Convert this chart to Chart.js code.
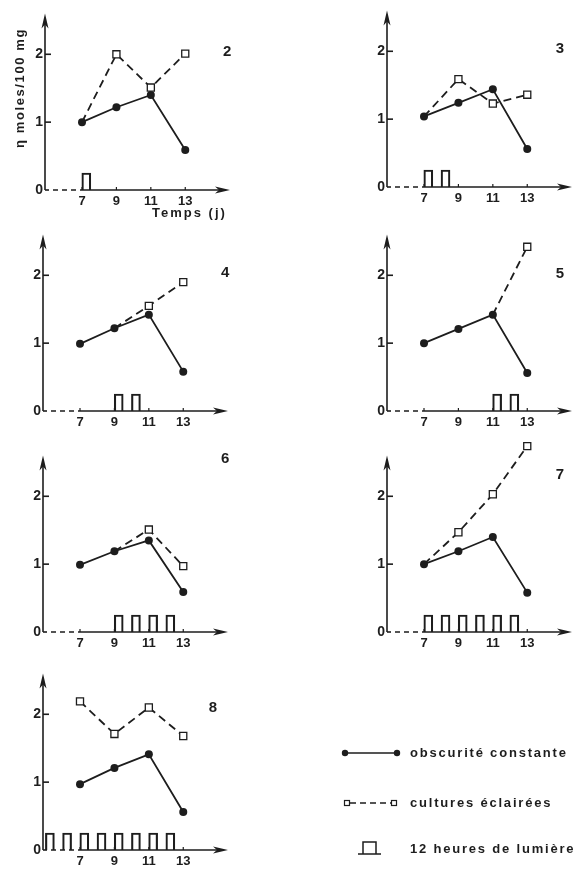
<!DOCTYPE html>
<html lang="fr">
<head>
<meta charset="utf-8">
<title>Teneur en fonction du temps</title>
<script src="https://cdn.jsdelivr.net/npm/chart.js@4.4.0/dist/chart.umd.min.js"></script>
<style>
  html, body { margin: 0; padding: 0; background: #fff; overflow: hidden; }
  body { position: relative; width: 574px; height: 869px; }
  canvas { position: absolute; }
</style>
</head>
<body>
<canvas id="p2"></canvas>
<canvas id="p3"></canvas>
<canvas id="p4"></canvas>
<canvas id="p5"></canvas>
<canvas id="p6"></canvas>
<canvas id="p7"></canvas>
<canvas id="p8"></canvas>
<script>
// jours de prélèvement
const days = [7, 9, 11, 13];

// η moles/100 mg, obscurité constante / cultures éclairées, et jours à 12 h de lumière
const obscurite2 = [1.0, 1.22, 1.40, 0.59];
const eclairees2 = [1.0, 2.0, 1.51, 2.01];
const lumiere2 = [7];

const obscurite3 = [1.04, 1.24, 1.44, 0.56];
const eclairees3 = [1.04, 1.59, 1.23, 1.36];
const lumiere3 = [7, 8];

const obscurite4 = [0.99, 1.22, 1.42, 0.58];
const eclairees4 = [null, 1.22, 1.55, 1.90];
const lumiere4 = [9, 10];

const obscurite5 = [1.0, 1.21, 1.42, 0.56];
const eclairees5 = [null, null, 1.42, 2.42];
const lumiere5 = [11, 12];

const obscurite6 = [0.99, 1.19, 1.35, 0.59];
const eclairees6 = [null, 1.19, 1.51, 0.97];
const lumiere6 = [9, 10, 11, 12];

const obscurite7 = [1.0, 1.19, 1.40, 0.58];
const eclairees7 = [1.0, 1.47, 2.03, 2.74];
const lumiere7 = [7, 8, 9, 10, 11, 12];

const obscurite8 = [0.97, 1.21, 1.41, 0.56];
const eclairees8 = [2.19, 1.71, 2.10, 1.68];
const lumiere8 = [5, 6, 7, 8, 9, 10, 11, 12];

const yTicks = [0, 1, 2];

const INK = '#1d1d1d';
const FONT = '"Liberation Sans", Arial, Helvetica, sans-serif';
const X_MIN = 4.85, X_MAX = 15.6;
const Y_MAX = 2.8, ARROW_Y = 2.6;
const LIGHT_H = 0.25;   // hauteur du créneau "12 h de lumière"
const AREA_H = 190;     // hauteur de la zone de tracé, px
const AXIS_H = 34;      // place sous l'axe des x

// axes fléchés, graduations et numéro du graphique
const axesPlugin = {
  id: 'axes',
  beforeDatasetsDraw(chart, args, opts) {
    const { ctx, chartArea } = chart;
    const xs = chart.scales.x, ys = chart.scales.y;
    const x0 = chartArea.left, y0 = ys.getPixelForValue(0);
    const x7 = xs.getPixelForValue(7);
    const xEnd = chartArea.right, yTop = ys.getPixelForValue(ARROW_Y);
    ctx.save();
    ctx.strokeStyle = INK;
    ctx.fillStyle = INK;
    ctx.lineWidth = 1.6;

    // axe vertical
    ctx.beginPath();
    ctx.moveTo(x0, y0);
    ctx.lineTo(x0, yTop + 10);
    ctx.stroke();
    ctx.beginPath();
    ctx.moveTo(x0, yTop);
    ctx.lineTo(x0 - 3.5, yTop + 15);
    ctx.lineTo(x0, yTop + 11);
    ctx.lineTo(x0 + 3.5, yTop + 15);
    ctx.closePath();
    ctx.fill();
    [1, 2].forEach(v => {
      const y = ys.getPixelForValue(v);
      ctx.beginPath();
      ctx.moveTo(x0, y);
      ctx.lineTo(x0 + 6, y);
      ctx.stroke();
    });

    // axe horizontal : tirets avant le 7e jour, puis trait plein
    ctx.beginPath();
    ctx.moveTo(x0, y0);
    ctx.lineTo(x0 + 4, y0);
    ctx.stroke();
    ctx.setLineDash([5, 4]);
    ctx.beginPath();
    ctx.moveTo(x0 + 8, y0);
    ctx.lineTo(x7 - 2, y0);
    ctx.stroke();
    ctx.setLineDash([]);
    ctx.beginPath();
    ctx.moveTo(x7 - 2, y0);
    ctx.lineTo(xEnd - 10, y0);
    ctx.stroke();
    ctx.beginPath();
    ctx.moveTo(xEnd, y0);
    ctx.lineTo(xEnd - 15, y0 - 3.5);
    ctx.lineTo(xEnd - 11, y0);
    ctx.lineTo(xEnd - 15, y0 + 3.5);
    ctx.closePath();
    ctx.fill();
    ctx.lineWidth = 1.2;
    days.forEach(d => {
      const x = xs.getPixelForValue(d);
      ctx.beginPath();
      ctx.moveTo(x, y0);
      ctx.lineTo(x, y0 - 3);
      ctx.stroke();
    });

    // numéro du graphique
    if (opts.label) {
      ctx.font = 'bold 15px ' + FONT;
      ctx.textAlign = 'center';
      ctx.textBaseline = 'middle';
      ctx.fillText(opts.label, xs.getPixelForValue(opts.at[0]), ys.getPixelForValue(opts.at[1]));
    }
    ctx.restore();
  }
};

// titres des axes, portés par le premier graphique
const titlesPlugin = {
  id: 'titles',
  afterDraw(chart) {
    const ctx = chart.ctx;
    ctx.save();
    ctx.fillStyle = INK;
    ctx.font = 'bold 13px ' + FONT;
    ctx.letterSpacing = '2px';
    ctx.textBaseline = 'middle';
    ctx.textAlign = 'left';
    ctx.fillText('Temps (j)', 150, 213);
    ctx.letterSpacing = '1.6px';
    ctx.translate(18, 88);
    ctx.rotate(-Math.PI / 2);
    ctx.textAlign = 'center';
    ctx.fillText('η moles/100 mg', 0, 0);
    ctx.restore();
  }
};

// légende, à droite du dernier graphique
const legendPlugin = {
  id: 'legende',
  afterDraw(chart) {
    const ctx = chart.ctx;
    ctx.save();
    ctx.strokeStyle = INK;
    ctx.fillStyle = INK;
    ctx.lineWidth = 1.6;

    // obscurité constante
    ctx.beginPath();
    ctx.moveTo(345, 93);
    ctx.lineTo(397, 93);
    ctx.stroke();
    [345, 397].forEach(x => {
      ctx.beginPath();
      ctx.arc(x, 93, 3.2, 0, Math.PI * 2);
      ctx.fill();
    });

    // cultures éclairées
    ctx.setLineDash([6, 4]);
    ctx.beginPath();
    ctx.moveTo(350, 143);
    ctx.lineTo(392, 143);
    ctx.stroke();
    ctx.setLineDash([]);
    ctx.lineWidth = 1.2;
    [347, 394].forEach(x => {
      ctx.fillStyle = '#fff';
      ctx.fillRect(x - 2.5, 140.5, 5, 5);
      ctx.strokeRect(x - 2.5, 140.5, 5, 5);
    });

    // 12 heures de lumière
    ctx.lineWidth = 1.5;
    ctx.beginPath();
    ctx.moveTo(358, 194);
    ctx.lineTo(381, 194);
    ctx.moveTo(363, 194);
    ctx.lineTo(363, 182);
    ctx.lineTo(376, 182);
    ctx.lineTo(376, 194);
    ctx.stroke();

    ctx.fillStyle = INK;
    ctx.font = 'bold 13px ' + FONT;
    ctx.letterSpacing = '1.8px';
    ctx.textBaseline = 'middle';
    ctx.textAlign = 'left';
    ctx.fillText('obscurité constante', 410, 93);
    ctx.fillText('cultures éclairées', 410, 143);
    ctx.fillText('12 heures de lumière', 410, 189);
    ctx.restore();
  }
};

const panels = [
  { id: 'p2', left: 2,   top: 0,   width: 240, label: '2', at: [15.43, 2.03], dark: obscurite2, lit: eclairees2, light: lumiere2, extra: [titlesPlugin] },
  { id: 'p3', left: 344, top: -3,  width: 230, label: '3', at: [14.9, 2.03],  dark: obscurite3, lit: eclairees3, light: lumiere3, extra: [] },
  { id: 'p4', left: 0,   top: 221, width: 240, label: '4', at: [15.43, 2.04], dark: obscurite4, lit: eclairees4, light: lumiere4, extra: [] },
  { id: 'p5', left: 344, top: 221, width: 230, label: '5', at: [14.9, 2.02],  dark: obscurite5, lit: eclairees5, light: lumiere5, extra: [] },
  { id: 'p6', left: 0,   top: 442, width: 240, label: '6', at: [15.43, 2.55], dark: obscurite6, lit: eclairees6, light: lumiere6, extra: [] },
  { id: 'p7', left: 344, top: 442, width: 230, label: '7', at: [14.9, 2.31],  dark: obscurite7, lit: eclairees7, light: lumiere7, extra: [] },
  { id: 'p8', left: 0,   top: 660, width: 574, label: '8', at: [14.73, 2.09], dark: obscurite8, lit: eclairees8, light: lumiere8, extra: [legendPlugin] }
];

function points(values) {
  return values.map((v, i) => ({ x: days[i], y: v }));
}

function drawPanel(p) {
  const canvas = document.getElementById(p.id);
  canvas.width = p.width;
  canvas.height = AREA_H + AXIS_H;
  canvas.style.left = p.left + 'px';
  canvas.style.top = p.top + 'px';

  const data = {
    datasets: [
      {
        type: 'line',
        data: points(p.lit),
        borderColor: INK,
        borderWidth: 1.8,
        borderDash: [8, 5],
        pointStyle: 'rect',
        pointRadius: p.lit.map((v, i) => (v === p.dark[i] ? 0 : 5)),
        pointBackgroundColor: '#fff',
        pointBorderColor: INK,
        pointBorderWidth: 1.3,
        tension: 0,
        clip: false
      },
      {
        type: 'line',
        data: points(p.dark),
        borderColor: INK,
        borderWidth: 1.8,
        pointStyle: 'circle',
        pointRadius: 4,
        pointBackgroundColor: INK,
        pointBorderColor: INK,
        pointBorderWidth: 0,
        tension: 0,
        clip: false
      },
      {
        type: 'bar',
        data: p.light.map(d => ({ x: d + 0.25, y: LIGHT_H })),
        backgroundColor: 'rgba(0,0,0,0)',
        borderColor: INK,
        borderWidth: 1.5,
        borderSkipped: 'bottom',
        barThickness: 9
      }
    ]
  };

  const tickFont = { family: FONT, weight: 'bold' };

  return new Chart(canvas, {
    type: 'line',
    data: data,
    options: {
      responsive: false,
      animation: false,
      events: [],
      devicePixelRatio: 1,
      layout: {
        autoPadding: false,
        padding: { left: 13, top: 0, right: p.width - 43 - 185, bottom: 0 }
      },
      plugins: {
        legend: { display: false },
        tooltip: { enabled: false },
        axes: { label: p.label, at: p.at }
      },
      scales: {
        x: {
          type: 'linear',
          min: X_MIN,
          max: X_MAX,
          offset: false,
          afterFit(s) { s.height = AXIS_H; s.paddingLeft = 0; s.paddingRight = 0; },
          afterBuildTicks(s) { s.ticks = days.map(v => ({ value: v })); },
          grid: { display: false, drawTicks: false },
          border: { display: false },
          ticks: { color: INK, font: { ...tickFont, size: 13 }, padding: 4, maxRotation: 0, autoSkip: false }
        },
        y: {
          min: 0,
          max: Y_MAX,
          afterFit(s) { s.width = 30; s.paddingTop = 0; s.paddingBottom = 0; },
          afterBuildTicks(s) { s.ticks = yTicks.map(v => ({ value: v })); },
          grid: { display: false, drawTicks: false },
          border: { display: false },
          ticks: { color: INK, font: { ...tickFont, size: 14 }, padding: 2 }
        }
      }
    },
    plugins: [axesPlugin, ...p.extra]
  });
}

const charts = panels.map(drawPanel);
</script>
</body>
</html>
